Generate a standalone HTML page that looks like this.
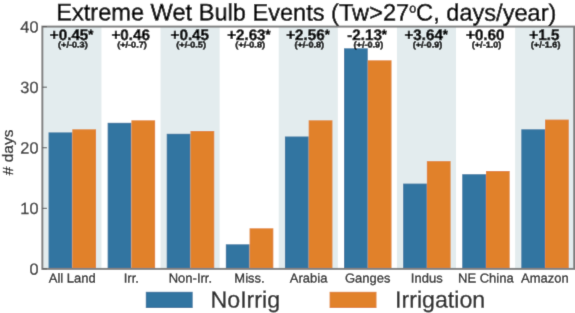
<!DOCTYPE html>
<html><head><meta charset="utf-8"><title>Extreme Wet Bulb Events</title>
<style>
html,body{margin:0;padding:0;background:#fff;}
body{width:575px;height:313px;overflow:hidden;font-family:"Liberation Sans",sans-serif;}
svg{display:block;will-change:transform;font-family:"Liberation Sans",sans-serif;}
.m{text-anchor:middle;}
.e{text-anchor:end;}
.b{font-weight:bold;}
</style></head><body>
<svg width="575" height="313" viewBox="0 0 575 313">
<defs><filter id="bl" x="0" y="0" width="575" height="313" filterUnits="userSpaceOnUse"><feConvolveMatrix order="3" kernelMatrix="0.01134 0.08382 0.01134 0.08382 0.61935 0.08382 0.01134 0.08382 0.01134" edgeMode="duplicate" preserveAlpha="false"/></filter></defs>
<rect x="0" y="0" width="575" height="313" fill="#fff"/>
<g filter="url(#bl)">
<rect x="-5" y="-5" width="585" height="323" fill="#fff"/>
<g fill="#e3ecee">
<rect x="42.35" y="26.60" width="59.09" height="242.30"/>
<rect x="160.54" y="26.60" width="59.09" height="242.30"/>
<rect x="278.73" y="26.60" width="59.09" height="242.30"/>
<rect x="396.92" y="26.60" width="59.09" height="242.30"/>
<rect x="515.11" y="26.60" width="59.09" height="242.30"/>
</g>
<g fill="#3274a1">
<rect x="48.55" y="132.40" width="23.75" height="136.50"/>
<rect x="107.64" y="122.80" width="23.75" height="146.10"/>
<rect x="166.74" y="133.80" width="23.75" height="135.10"/>
<rect x="225.83" y="244.30" width="23.75" height="24.60"/>
<rect x="284.93" y="136.50" width="23.75" height="132.40"/>
<rect x="344.02" y="48.30" width="23.75" height="220.60"/>
<rect x="403.11" y="183.60" width="23.75" height="85.30"/>
<rect x="462.21" y="174.20" width="23.75" height="94.70"/>
<rect x="521.30" y="129.30" width="23.75" height="139.60"/>
</g>
<g fill="#e1812c">
<rect x="72.30" y="129.30" width="23.75" height="139.60"/>
<rect x="131.39" y="120.30" width="23.75" height="148.60"/>
<rect x="190.49" y="131.00" width="23.75" height="137.90"/>
<rect x="249.58" y="228.30" width="23.75" height="40.60"/>
<rect x="308.68" y="120.30" width="23.75" height="148.60"/>
<rect x="367.77" y="60.30" width="23.75" height="208.60"/>
<rect x="426.86" y="161.10" width="23.75" height="107.80"/>
<rect x="485.96" y="171.00" width="23.75" height="97.90"/>
<rect x="545.05" y="119.60" width="23.75" height="149.30"/>
</g>
<rect x="42.35" y="26.60" width="531.85" height="242.30" fill="none" stroke="#808080" stroke-width="2.0"/>
<g stroke="#555" stroke-width="1">
<line x1="42.35" y1="268.90" x2="46.95" y2="268.90"/>
<line x1="42.35" y1="208.32" x2="46.95" y2="208.32"/>
<line x1="42.35" y1="147.75" x2="46.95" y2="147.75"/>
<line x1="42.35" y1="87.18" x2="46.95" y2="87.18"/>
<line x1="42.35" y1="26.60" x2="46.95" y2="26.60"/>
</g>
<g class="e" font-size="16.3" fill="#3a3a3a" stroke="#3a3a3a" stroke-width="0.3">
<text transform="matrix(1 0.001 0 1 38.50 274.70)">0</text>
<text transform="matrix(1 0.001 0 1 38.50 214.12)">10</text>
<text transform="matrix(1 0.001 0 1 38.50 153.55)">20</text>
<text transform="matrix(1 0.001 0 1 38.50 92.98)">30</text>
<text transform="matrix(1 0.001 0 1 38.50 32.40)">40</text>
</g>
<g class="m b" font-size="15.2" fill="#000" stroke="#000" stroke-width="0.5">
<text transform="matrix(1 0.001 0 1 71.60 40.00)">+0.45<tspan font-size="13" dy="-1.2">*</tspan></text>
<text transform="matrix(1 0.001 0 1 130.69 40.00)">+0.46</text>
<text transform="matrix(1 0.001 0 1 189.79 40.00)">+0.45</text>
<text transform="matrix(1 0.001 0 1 248.88 40.00)">+2.63<tspan font-size="13" dy="-1.2">*</tspan></text>
<text transform="matrix(1 0.001 0 1 307.98 40.00)">+2.56<tspan font-size="13" dy="-1.2">*</tspan></text>
<text transform="matrix(1 0.001 0 1 367.07 40.00)">-2.13<tspan font-size="13" dy="-1.2">*</tspan></text>
<text transform="matrix(1 0.001 0 1 426.16 40.00)">+3.64<tspan font-size="13" dy="-1.2">*</tspan></text>
<text transform="matrix(1 0.001 0 1 485.26 40.00)">+0.60</text>
<text transform="matrix(1 0.001 0 1 544.35 40.00)">+1.5</text>
</g>
<g class="m b" font-size="8.3" fill="#000" stroke="#000" stroke-width="0.45">
<text transform="matrix(1.1 0.001 0 1 72.90 47.50)">(+/-0.3)</text>
<text transform="matrix(1.1 0.001 0 1 131.99 47.50)">(+/-0.7)</text>
<text transform="matrix(1.1 0.001 0 1 191.09 47.50)">(+/-0.5)</text>
<text transform="matrix(1.1 0.001 0 1 250.18 47.50)">(+/-0.8)</text>
<text transform="matrix(1.1 0.001 0 1 309.28 47.50)">(+/-0.8)</text>
<text transform="matrix(1.1 0.001 0 1 368.37 47.50)">(+/-0.9)</text>
<text transform="matrix(1.1 0.001 0 1 427.46 47.50)">(+/-0.9)</text>
<text transform="matrix(1.1 0.001 0 1 486.56 47.50)">(+/-1.0)</text>
<text transform="matrix(1.1 0.001 0 1 545.65 47.50)">(+/-1.6)</text>
</g>
<g class="m" font-size="13" fill="#222" stroke="#222" stroke-width="0.3">
<text transform="matrix(1 0.001 0 1 72.20 282.50)">All Land</text>
<text transform="matrix(1 0.001 0 1 131.29 282.50)">Irr.</text>
<text transform="matrix(1 0.001 0 1 190.39 282.50)">Non-Irr.</text>
<text transform="matrix(1 0.001 0 1 249.48 282.50)">Miss.</text>
<text transform="matrix(1 0.001 0 1 308.58 282.50)">Arabia</text>
<text transform="matrix(1 0.001 0 1 367.67 282.50)">Ganges</text>
<text transform="matrix(1 0.001 0 1 426.76 282.50)">Indus</text>
<text transform="matrix(1 0.001 0 1 485.86 282.50)">NE China</text>
<text transform="matrix(1 0.001 0 1 544.95 282.50)">Amazon</text>
</g>
<text class="m" transform="matrix(1 0.001 0 1 306.3 20.45)" font-size="23.6" fill="#000" stroke="#000" stroke-width="0.5">Extreme Wet Bulb Events (Tw&gt;27<tspan font-size="12.5" dy="-8">o</tspan><tspan dy="8">C, days/year)</tspan></text>
<text class="m" transform="translate(13.4 152.4) rotate(-90) scale(1.06 1)" font-size="14.6" fill="#222" stroke="#222" stroke-width="0.3"># days</text>
<rect x="145.8" y="291.8" width="46.9" height="16.2" fill="#3274a1"/>
<rect x="329.6" y="291.8" width="46.9" height="16.2" fill="#e1812c"/>
<g font-size="23.2" fill="#2a2a2a" stroke="#2a2a2a" stroke-width="0.3">
<text transform="matrix(1 0.001 0 1 210.5 307.5)">NoIrrig</text>
<text transform="matrix(1 0.001 0 1 395 307.5)">Irrigation</text>
</g>
</g>
</svg>
</body></html>
